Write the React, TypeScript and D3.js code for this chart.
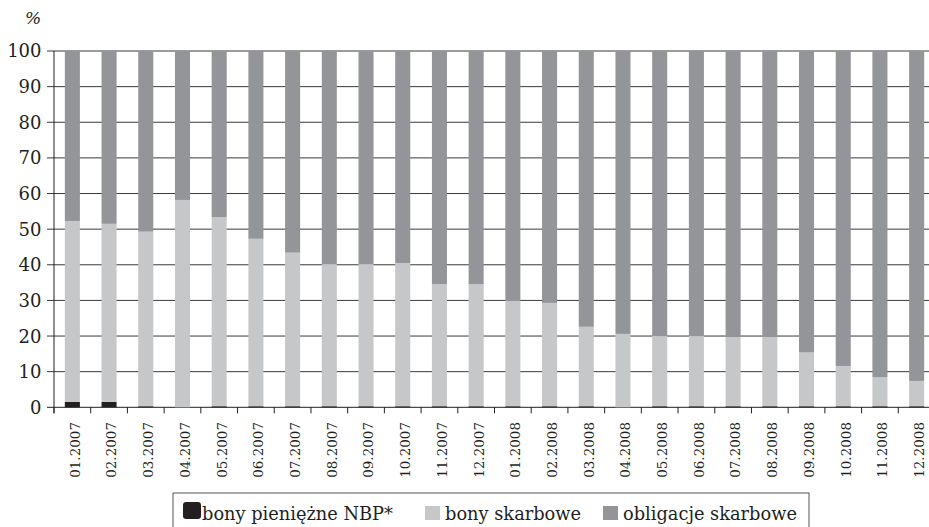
import React from "react";
import * as d3 from "d3";

const categories = [
  "01.2007","02.2007","03.2007","04.2007","05.2007","06.2007","07.2007","08.2007","09.2007","10.2007","11.2007","12.2007",
  "01.2008","02.2008","03.2008","04.2008","05.2008","06.2008","07.2008","08.2008","09.2008","10.2008","11.2008","12.2008",
];
const bonyNBP = [1.5,1.5,0.3,0,0.3,0.3,0.3,0.3,0.3,0.3,0.3,0.3,0.3,0.3,0.3,0,0.3,0.3,0.3,0.3,0.3,0.3,0.3,0.3];
const bonySkarbowe = [50.8,50.0,49.0,58.2,53.1,47.0,43.1,39.9,39.9,40.2,34.3,34.3,29.5,29.0,22.3,20.6,19.7,19.7,19.4,19.4,15.1,11.3,8.2,7.1];
const obligacje = categories.map((_, i) => 100 - bonyNBP[i] - bonySkarbowe[i]);
const yTicks = [0,10,20,30,40,50,60,70,80,90,100];
const seriesNames = ["bony pieniężne NBP*", "bony skarbowe", "obligacje skarbowe"];
const colors = ["#231f20", "#c6c7c8", "#939598"];

export default function App() {
  const W = 929, H = 527;
  const left = 54, right = 935, top = 51, bottom = 407.3;
  const x = d3.scaleBand<string>().domain(categories).range([left, right]).paddingInner(0.59).paddingOuter(0.295);
  const y = d3.scaleLinear().domain([0, 100]).range([bottom, top]);
  const step = x.step();
  const font = "'DejaVu Serif', serif";

  const rows = categories.map((c, i) => ({ c, a: bonyNBP[i], b: bonySkarbowe[i], o: obligacje[i] }));
  const stack = d3.stack<any>().keys(["a", "b", "o"])(rows as any);

  return (
    <svg width={W} height={H} style={{ position: "absolute", left: 0, top: 0, background: "#fff" }}>
      <text x={33} y={24} fontFamily={font} fontStyle="italic" fontSize={17} textAnchor="middle" fill="#231f20">%</text>
      {yTicks.map((t) => (
        <g key={t}>
          <line x1={left - 7} x2={W} y1={y(t)} y2={y(t)} stroke={t === 0 ? "#231f20" : "#3a3a3a"} strokeWidth={1} />
          <text x={41.5} y={y(t)} dy="0.36em" textAnchor="end" fontFamily={font} fontSize={18} fill="#231f20">{t}</text>
        </g>
      ))}
      {stack.map((s, si) => (
        <g key={si} fill={colors[si]}>
          {s.map((d: any, i: number) => {
            const h = y(d[0]) - y(d[1]);
            if (h <= 0) return null;
            return <rect key={i} x={x(categories[i])!} width={x.bandwidth()} y={y(d[1])} height={h} />;
          })}
        </g>
      ))}
      <line x1={left} x2={left} y1={top} y2={bottom + 6} stroke="#231f20" strokeWidth={1} />
      {d3.range(categories.length + 1).map((i) => (
        <line key={i} x1={left + step * i} x2={left + step * i} y1={bottom} y2={bottom + 6} stroke="#231f20" strokeWidth={1} />
      ))}
      {categories.map((c) => (
        <text key={c} transform={`translate(${x(c)! + x.bandwidth() / 2 + 2.5},${422})rotate(-90)`} dy="0.36em" textAnchor="end" fontFamily={font} fontSize={13.5} fill="#231f20">{c}</text>
      ))}
      <rect x={173} y={493} width={636} height={40} fill="none" stroke="#555" strokeWidth={1} />
      <rect x={183} y={502} width={18} height={17} rx={3} fill={colors[0]} />
      <text x={202} y={520} fontFamily={font} fontSize={17.8} fill="#231f20">{seriesNames[0]}</text>
      <rect x={425} y={506} width={15} height={14} fill={colors[1]} />
      <text x={445} y={520} fontFamily={font} fontSize={17.8} fill="#231f20">{seriesNames[1]}</text>
      <rect x={603} y={506} width={15} height={14} fill={colors[2]} />
      <text x={623} y={520} fontFamily={font} fontSize={17.8} fill="#231f20">{seriesNames[2]}</text>
    </svg>
  );
}
